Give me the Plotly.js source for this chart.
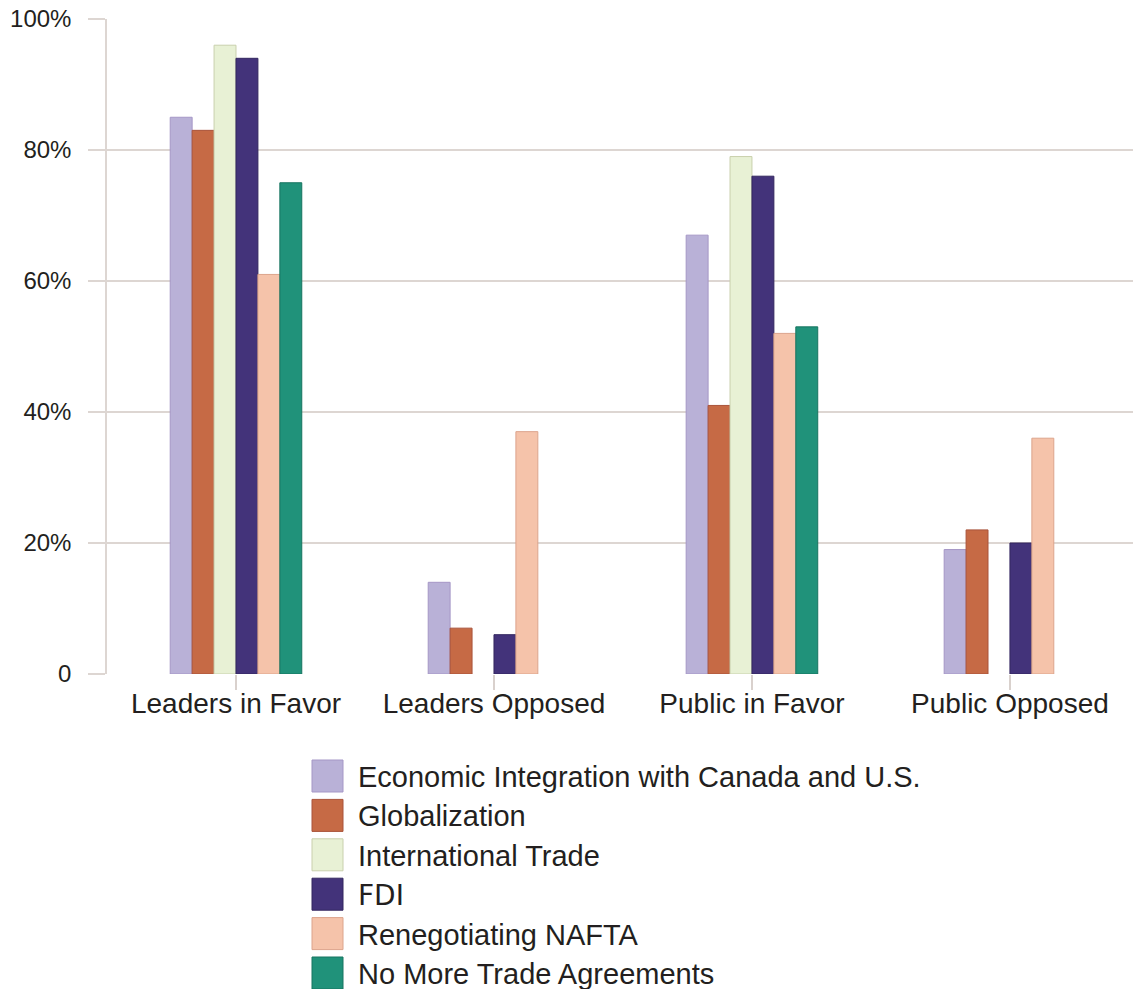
<!DOCTYPE html>
<html>
<head>
<meta charset="utf-8">
<script src="https://cdn.plot.ly/plotly-3.0.1.min.js"></script>
<style>html,body{margin:0;padding:0;background:#fff;}#chart{width:1133px;height:989px;}</style>
</head>
<body>
<div id="chart"></div>
<script>
const categories = ["Leaders in Favor", "Leaders Opposed", "Public in Favor", "Public Opposed"];
const seriesNames = ["Economic Integration with Canada and U.S.", "Globalization", "International Trade", "FDI", "Renegotiating NAFTA", "No More Trade Agreements"];
const econIntegration = [85, 14, 67, 19];
const globalization = [83, 7, 41, 22];
const internationalTrade = [96, null, 79, null];
const fdi = [94, 6, 76, 20];
const renegotiatingNafta = [61, 37, 52, 36];
const noMoreAgreements = [75, null, 53, null];
const yTickValues = [0, 20, 40, 60, 80, 100];
const yTickLabels = ["0", "20%", "40%", "60%", "80%", "100%"];

const seriesValues = [econIntegration, globalization, internationalTrade, fdi, renegotiatingNafta, noMoreAgreements];
const fillColors = ["#b9b1d7", "#c66a45", "#e8f1d5", "#43337a", "#f5c3aa", "#20927a"];
const lineColors = ["#a597c6", "#a9533a", "#c9d0ad", "#33275f", "#dca48c", "#177560"];

const traces = seriesValues.map((vals, i) => ({
  type: "bar",
  name: seriesNames[i],
  x: categories,
  y: vals,
  marker: {color: fillColors[i], line: {color: lineColors[i], width: 1}},
  showlegend: false,
  hoverinfo: "y+name"
}));

// plot area in pixels
const L = 107, R = 1133, T = 19, B = 674;
const px2x = p => (p - L) / (R - L);
const px2y = p => (B - p) / (B - T);

const shapes = [];
const annotations = [];
seriesNames.forEach((name, i) => {
  const top = 760 + 39.4 * i;
  shapes.push({
    type: "rect", xref: "paper", yref: "paper",
    x0: px2x(312), x1: px2x(343), y0: px2y(top), y1: px2y(top + 32),
    fillcolor: fillColors[i], line: {color: lineColors[i], width: 1}
  });
  annotations.push({
    xref: "paper", yref: "paper", x: px2x(356), y: px2y(top + 17),
    xanchor: "left", yanchor: "middle", showarrow: false,
    text: name,
    font: {family: name === "FDI" ? "DejaVu Sans" : "Liberation Sans, Arial, sans-serif", size: name === "FDI" ? 28 : 29, color: "#231f20"}
  });
});

const layout = {
  width: 1133, height: 989,
  margin: {l: L, r: 1133 - R, t: T, b: 989 - B, pad: 0},
  paper_bgcolor: "#ffffff", plot_bgcolor: "#ffffff",
  barmode: "group", bargap: 0.49, bargroupgap: 0,
  font: {family: "Liberation Sans, Arial, sans-serif", color: "#231f20"},
  xaxis: {
    type: "category", range: [-0.5, 3.477],
    showgrid: false, zeroline: false,
    showline: false,
    ticks: "outside", ticklen: 15, tickwidth: 1.5, tickcolor: "#d9d1cd",
    ticklabelstandoff: -11,
    tickfont: {size: 28, color: "#231f20"}
  },
  yaxis: {
    range: [0, 100], tickvals: yTickValues, ticktext: yTickLabels,
    showgrid: true, gridcolor: "#ddd6d2", gridwidth: 1.5,
    zeroline: false,
    showline: true, linecolor: "#ddd6d2", linewidth: 1.5,
    ticks: "outside", ticklen: 17, tickwidth: 1.5, tickcolor: "#ddd6d2",
    ticklabelstandoff: 12,
    tickfont: {size: 24, color: "#231f20"}
  },
  shapes: shapes,
  annotations: annotations
};

Plotly.newPlot("chart", traces, layout, {displayModeBar: false, responsive: false});
</script>
</body>
</html>
